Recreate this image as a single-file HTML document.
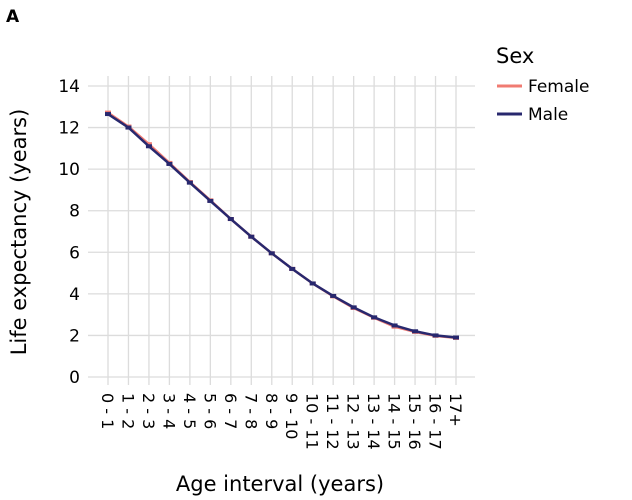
<!DOCTYPE html>
<html><head><meta charset="utf-8"><style>
body{margin:0;background:#fff;width:632px;height:500px;overflow:hidden}
svg{display:block;font-family:"DejaVu Sans","Liberation Sans",sans-serif}
</style></head><body>
<svg id="c" width="632" height="500">
<text x="6" y="22" font-size="17" font-weight="bold">A</text>
<g id="grid"></g><g id="ticks"></g><g id="series"></g>
<text x="280" y="491" font-size="21" text-anchor="middle">Age interval (years)</text>
<text transform="translate(26,232) rotate(-90)" font-size="21" text-anchor="middle">Life expectancy (years)</text>
<g>
<text x="496" y="63" font-size="21">Sex</text>
<line x1="497" x2="522" y1="86" y2="86" stroke="#f07b72" stroke-width="3"/>
<text x="528" y="92" font-size="17">Female</text>
<line x1="497" x2="522" y1="114" y2="114" stroke="#28286e" stroke-width="3"/>
<text x="528" y="120" font-size="17">Male</text>
</g>
</svg>
<script>
const categories=["0 - 1","1 - 2","2 - 3","3 - 4","4 - 5","5 - 6","6 - 7","7 - 8","8 - 9","9 - 10","10 - 11","11 - 12","12 - 13","13 - 14","14 - 15","15 - 16","16 - 17","17+"];
const female=[12.72,12.05,11.2,10.3,9.38,8.5,7.6,6.75,5.95,5.2,4.5,3.88,3.32,2.85,2.42,2.17,1.98,1.88];
const male=[12.65,12.0,11.1,10.25,9.35,8.47,7.6,6.75,5.95,5.2,4.5,3.9,3.35,2.87,2.48,2.2,2.0,1.9];
const yTicks=[0,2,4,6,8,10,12,14];
const NS="http://www.w3.org/2000/svg";
const X0=108,X1=456,Y0=377,Y1=86,YMAX=14;
const x=i=>X0+i*(X1-X0)/(categories.length-1);
const y=v=>Y0-v*(Y0-Y1)/YMAX;
function mk(t,a,p){const e=document.createElementNS(NS,t);for(const k in a)e.setAttribute(k,a[k]);p.appendChild(e);return e;}
const grid=document.getElementById('grid'),ticks=document.getElementById('ticks'),series=document.getElementById('series');
yTicks.forEach(v=>{
 const l=mk('line',{x1:88,x2:475,y1:y(v),y2:y(v),stroke:'#dcdcdc','stroke-width':1.3},grid);
 
 
 const t=mk('text',{x:80,y:y(v)+6,'font-size':17,'text-anchor':'end'},ticks);
 t.textContent=v;
 
 
});
categories.forEach((c,i)=>{
 const l=mk('line',{x1:x(i),x2:x(i),y1:76,y2:385,stroke:'#dcdcdc','stroke-width':1.3},grid);
 
 
 const t=mk('text',{transform:`translate(${x(i)-6},393) rotate(90)`,'font-size':16},ticks);
 t.textContent=c;
 
 
});
function draw(vals,color,name){
 const p=mk('polyline',{points:vals.map((v,i)=>x(i)+','+y(v)).join(' '),fill:'none',stroke:color,'stroke-width':2.5},series);
 
 
 vals.forEach((v,i)=>{
  const r=mk('rect',{x:x(i)-3,y:y(v)-2,width:6,height:4,fill:color},series);
  
  
 });
}
draw(female,'#f07b72','female');
draw(male,'#28286e','male');
</script>
</body></html>
